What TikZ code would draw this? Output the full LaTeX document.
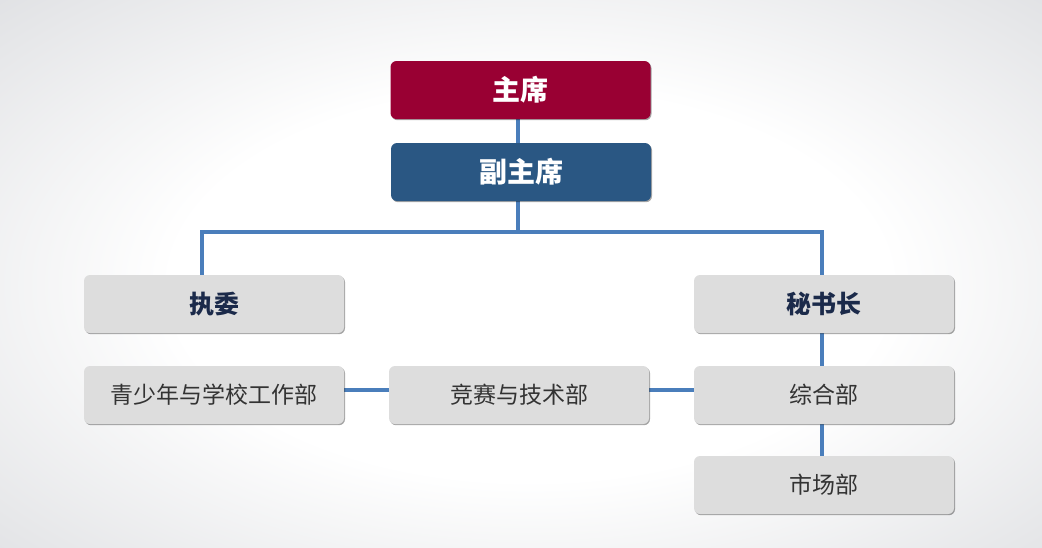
\documentclass[tikz,border=0pt]{standalone}
\usepackage{fontspec}
\newfontfamily\cjk{Noto Sans CJK SC}
\usetikzlibrary{shadows}
\definecolor{crimson}{HTML}{990033}
\definecolor{navybox}{HTML}{2A5783}
\definecolor{graybox}{HTML}{DDDDDD}
\definecolor{linkblue}{HTML}{4A7EBB}
\definecolor{headtext}{HTML}{1B2A4A}
\definecolor{bodytext}{HTML}{333333}
\definecolor{bgedge}{HTML}{C4C6CB}
\pgfdeclareradialshading{bgshade}{\pgfpoint{0bp}{0bp}}{color(0bp)=(white); color(16bp)=(white); color(50bp)=(bgedge)}
\pgfdeclarelayer{bglayer}
\pgfdeclarelayer{linelayer}
\pgfsetlayers{bglayer,linelayer,main}
\tikzset{
  box/.style={rectangle, rounded corners=6pt, minimum width=260pt, minimum height=58pt,
    inner sep=0pt, font=\cjk, drop shadow={shadow xshift=1pt, shadow yshift=-1.2pt, opacity=0.35, fill=black}},
  topbox/.style={box, fill=crimson, text=white, font=\cjk\bfseries\fontsize{28}{32}\selectfont},
  vicebox/.style={box, fill=navybox, text=white, font=\cjk\bfseries\fontsize{28}{32}\selectfont},
  headbox/.style={box, fill=graybox, text=headtext, font=\cjk\bfseries\fontsize{25}{30}\selectfont},
  deptbox/.style={box, fill=graybox, text=bodytext, font=\cjk\fontsize{23}{28}\selectfont},
  link/.style={draw=linkblue, line width=3.2pt}
}
\begin{document}
\begin{tikzpicture}[x=1pt, y=-1pt]
\useasboundingbox (0,0) rectangle (1042,547);
\begin{pgfonlayer}{bglayer}
\shade[shading=bgshade] (-30,-20) rectangle (1090,590);
\end{pgfonlayer}
\node[topbox] (chair) at (520.5,90) {主席};
\node[vicebox] (vice) at (521,172) {副主席};
\node[headbox] (exec) at (214,304) {执委};
\node[headbox] (sec) at (824,304) {秘书长};
\node[deptbox] (youth) at (214,395) {青少年与学校工作部};
\node[deptbox] (comp) at (519,395) {竞赛与技术部};
\node[deptbox] (gen) at (824,395) {综合部};
\node[deptbox] (mkt) at (824,485) {市场部};
\coordinate (bus) at (518,232);
\coordinate (lx) at (202,0);
\coordinate (rx) at (822,0);
\coordinate (hy) at (0,390);
\begin{pgfonlayer}{linelayer}
\draw[link] (chair.south -| bus) -- (vice.north -| bus);
\draw[link] (vice.south -| bus) -- (bus);
\draw[link] (exec.north -| lx) |- (bus) -| (sec.north -| rx);
\draw[link] (sec.south -| rx) -- (gen.north -| rx);
\draw[link] (gen.south -| rx) -- (mkt.north -| rx);
\draw[link] (youth.east |- hy) -- (comp.west |- hy);
\draw[link] (comp.east |- hy) -- (gen.west |- hy);
\end{pgfonlayer}
\end{tikzpicture}
\end{document}
